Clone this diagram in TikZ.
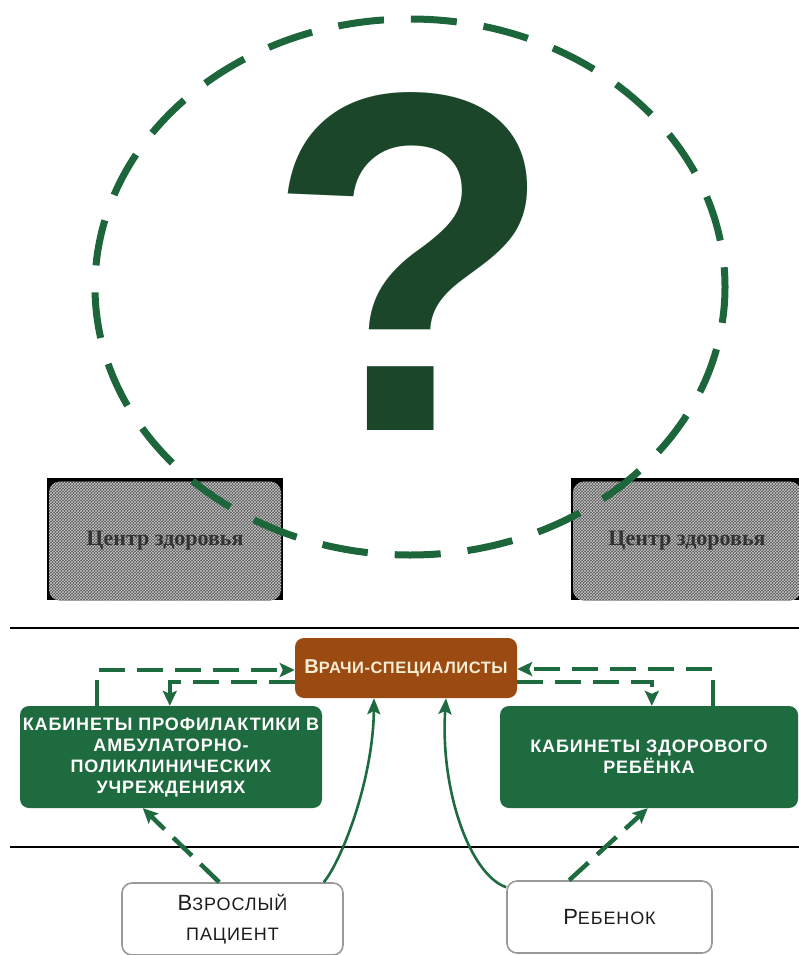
\documentclass[tikz,border=0pt]{standalone}
\usepackage{fontspec}
\setmainfont{Liberation Sans}
\newfontfamily\boxfont[LetterSpace=5]{Liberation Sans}
\newfontfamily\docfont[LetterSpace=3]{Liberation Sans}
\newfontfamily\plainfont[LetterSpace=5]{Liberation Sans}
\newfontfamily\serifbold{Liberation Serif}
\usetikzlibrary{arrows.meta,calc,patterns}
\definecolor{cgreen}{HTML}{1E6B3F}
\definecolor{dgreen}{HTML}{1B4629}
\definecolor{cbrown}{HTML}{9B4A12}
\definecolor{ccream}{HTML}{F6EDD3}
\definecolor{cgray}{HTML}{555555}
\definecolor{ctext}{HTML}{1C1C1C}
\tikzset{
  greenbox/.style={rectangle, rounded corners=9pt, fill=cgreen, text=white, align=center, inner sep=0pt, font=\boxfont\bfseries\fontsize{18}{21}\selectfont},
  brownbox/.style={rectangle, rounded corners=9pt, fill=cbrown, text=ccream, inner sep=0pt, minimum width=222pt, minimum height=60pt},
  whitebox/.style={rectangle, rounded corners=10pt, draw=gray!80, line width=1.6pt, fill=white, text=ctext, align=center, inner sep=0pt, minimum height=72pt},
  graybox/.style={rectangle, rounded corners=11pt, preaction={fill=cgray}, pattern=crosshatch, pattern color=gray!45, inner sep=0pt, text=black!80, font=\serifbold\bfseries\fontsize{22}{22}\selectfont},
  dconn/.style={draw=cgreen, line width=4.5pt, dash pattern=on 26pt off 12pt, -{Stealth[length=15pt,width=14pt,inset=3pt]}},
  sconn/.style={draw=cgreen, line width=2.6pt, -{Stealth[length=16pt,width=13pt,inset=3pt]}},
}
\begin{document}
\begin{tikzpicture}[x=1pt,y=-1pt]
\useasboundingbox (0,0) rectangle (799,955);
% gray boxes
\fill[black] (47,478) rectangle (283,600);
\fill[black] (571,478) rectangle (799,600);
\node[graybox, minimum width=232pt, minimum height=119pt] (g1) at (165,541) {Центр здоровья};
\node[graybox, minimum width=228pt, minimum height=119pt] (g2) at (687,541) {Центр здоровья};
% dashed circle
\draw[cgreen!95!black, line width=7pt, dash pattern=on 46pt off 27pt, dash phase=10pt] (410,287) ellipse [x radius=315, y radius=268];
% question mark
\node[inner sep=0pt, text=dgreen, anchor=base, font=\bfseries\fontsize{484}{484}\selectfont] (q) at (411,430) {\scalebox{0.975}[1]{?}};
% horizontal lines
\draw[black, line width=2pt] (10,628) -- (799,628);
\draw[black, line width=2pt] (10,847) -- (799,847);
% boxes
\node[brownbox] (vr) at (406,668) {\docfont\bfseries{\fontsize{20}{20}\selectfont В}{\fontsize{16.5}{17}\selectfont РАЧИ-СПЕЦИАЛИСТЫ}};
\node[greenbox, minimum width=302pt, minimum height=102pt] (lg) at (171,757) {КАБИНЕТЫ ПРОФИЛАКТИКИ В\\АМБУЛАТОРНО-\\ПОЛИКЛИНИЧЕСКИХ\\УЧРЕЖДЕНИЯХ};
\node[greenbox, minimum width=298pt, minimum height=102pt] (rg) at (649,757) {КАБИНЕТЫ ЗДОРОВОГО\\РЕБЁНКА};
\node[whitebox, minimum width=221pt, font=\plainfont\fontsize{18}{30}\selectfont] (ad) at (232.5,919) {{\fontsize{22}{22}\selectfont В}ЗРОСЛЫЙ\\ПАЦИЕНТ};
\node[whitebox, minimum width=205pt, font=\plainfont\fontsize{18}{30}\selectfont] (ch) at (609.5,917) {{\fontsize{22}{22}\selectfont Р}ЕБЕНОК};
% dashed connectors
\draw[dconn] ([xshift=77pt]lg.north west) |- ([yshift=-2pt]vr.west);
\draw[dconn] ([yshift=-14pt]vr.west) -| ([xshift=150pt]lg.north west);
\draw[dconn] ([xshift=-85pt]rg.north east) |- ([yshift=-1pt]vr.east);
\draw[dconn] ([yshift=-14pt]vr.east) -| ([xshift=152pt]rg.north west);
\draw[dconn] ([xshift=98pt]ad.north west) -- ([xshift=123pt]lg.south west);
\draw[dconn] ([xshift=63pt]ch.north west) -- ([xshift=148pt]rg.south west);
% solid connectors
\draw[sconn] ([xshift=-20pt]ad.north east) .. controls (342,860) and (373,780) .. ([xshift=-32pt]vr.south);
\draw[sconn] ([yshift=-7pt]ch.north west) .. controls (470,875) and (440,790) .. ([xshift=40pt]vr.south);
\end{tikzpicture}
\end{document}
